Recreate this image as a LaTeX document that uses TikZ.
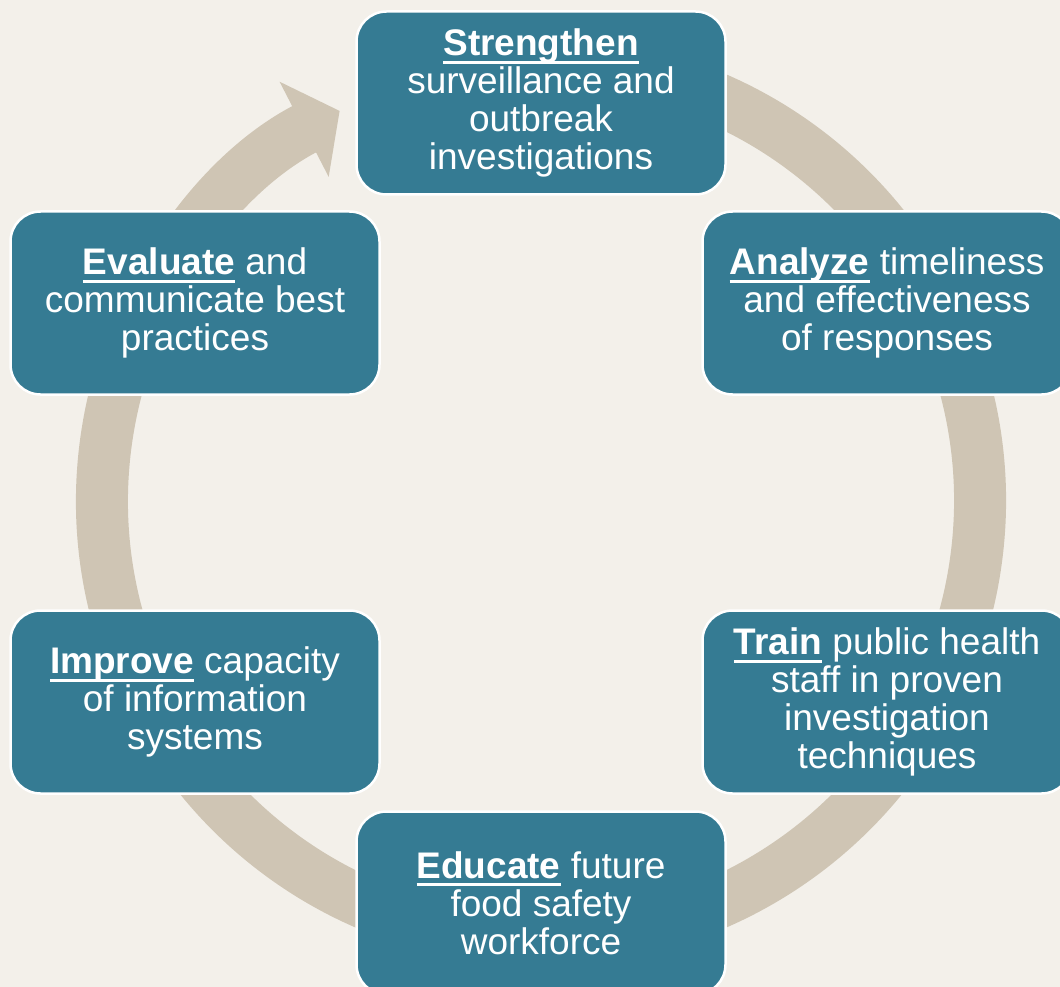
\documentclass[tikz,border=0pt]{standalone}
\usepackage{fontspec}
\setmainfont{Liberation Sans}
\usepackage{tikz}
\usetikzlibrary{arrows.meta}

\definecolor{paper}{HTML}{F3F0EA}
\definecolor{ring}{HTML}{CFC5B4}
\definecolor{teal}{HTML}{357B93}

% bold key word with a low underline
\newcommand{\keyword}[1]{\setbox0=\hbox{\bfseries #1}\rlap{\rule[-8pt]{\wd0}{3pt}}\box0\relax}

\begin{document}
\begin{tikzpicture}[
                x=1pt, y=1pt,
                stage/.style={rectangle, draw=white, line width=2.5pt, rounded corners=30pt, fill=teal, text=white, minimum width=369pt, minimum height=183pt, font=\fontsize{37}{38}\selectfont, align=center}
            ]
                \fill[paper] (0,0) rectangle (1060,-987);
                \useasboundingbox (0,0) rectangle (1060,-987);

                \coordinate (c) at (541,-501);
                \draw[ring, line width=52pt, -{Triangle[width=105pt, length=40pt]}] ([shift={(80:439)}]c) arc[start angle=80, end angle=-242.7, radius=439];

                \node[stage] (strengthen) at (541,-103) {\keyword{Strengthen}\\surveillance and\\outbreak\\investigations};
                \node[stage] (analyze) at (887,-303) {\keyword{Analyze} timeliness\\and effectiveness\\of responses};
                \node[stage] (train) at (887,-702) {\keyword{Train} public health\\staff in proven\\investigation\\techniques};
                \node[stage] (educate) at (541,-903) {\keyword{Educate} future\\food safety\\workforce};
                \node[stage] (improve) at (195,-702) {\keyword{Improve} capacity\\of information\\systems};
                \node[stage] (evaluate) at (195,-303) {\keyword{Evaluate} and\\communicate best\\practices};
            \end{tikzpicture}
\end{document}
